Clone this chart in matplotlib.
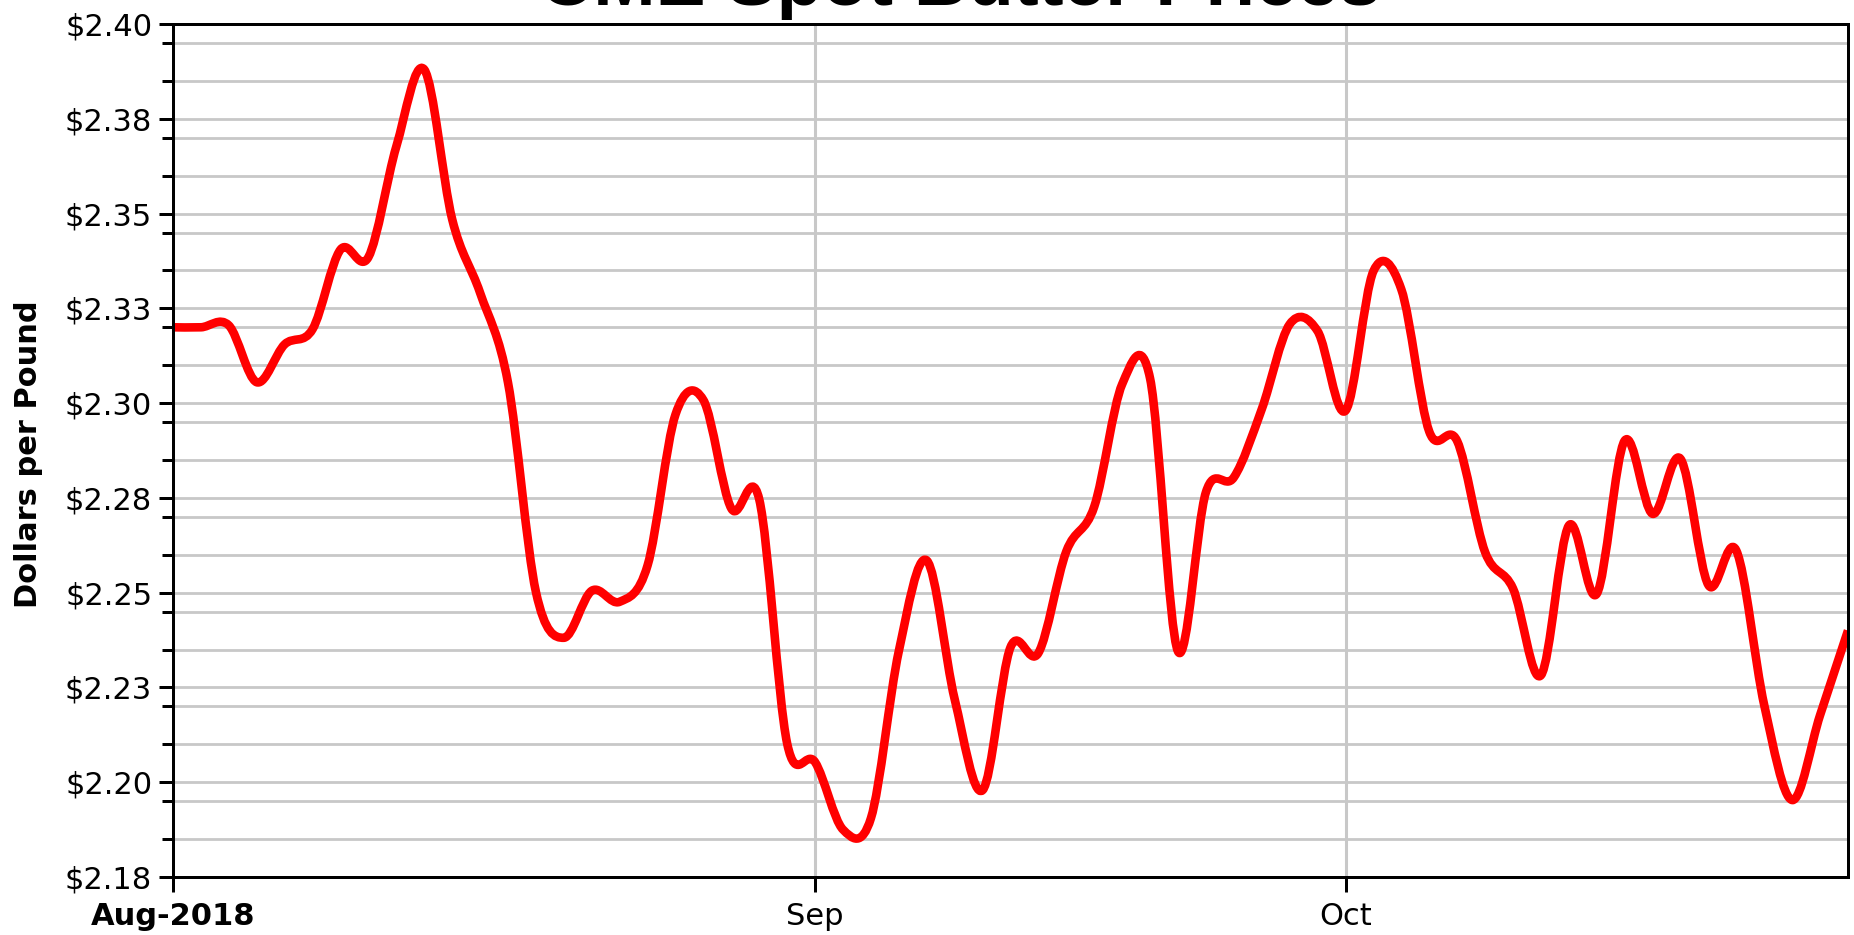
import numpy as np
import pandas as pd
import matplotlib
matplotlib.use('Agg')
import matplotlib.pyplot as plt
from matplotlib.path import Path
from matplotlib.patches import PathPatch

# CME trading days, Aug 1 - Oct 25 2018 (Labor Day closed)
trade_days = pd.bdate_range('2018-08-01', '2018-10-25')
trade_days = trade_days[trade_days != pd.Timestamp('2018-09-03')]

# spot butter, dollars per pound
prices = [2.3200, 2.3200, 2.3205, 2.3055, 2.3155, 2.3195, 2.3405, 2.3385, 2.3677, 2.3880,
          2.3485, 2.3291, 2.3054, 2.2502, 2.2381, 2.2505, 2.2476, 2.2572, 2.2970, 2.3008,
          2.2722, 2.2746, 2.2102, 2.2053, 2.1875, 2.1905, 2.2346, 2.2585, 2.2219, 2.1979,
          2.2356, 2.2341, 2.2609, 2.2727, 2.3050, 2.3065, 2.2345, 2.2765, 2.2804, 2.2984,
          2.3208, 2.3190, 2.2980, 2.3348, 2.3300, 2.2925, 2.2900, 2.2607, 2.2511, 2.2282,
          2.2677, 2.2497, 2.2901, 2.2708, 2.2853, 2.2520, 2.2611, 2.2203, 2.1953, 2.2177,
          2.2400]

y_major = [2.175, 2.200, 2.225, 2.250, 2.275, 2.300, 2.325, 2.350, 2.375, 2.400]
y_major_labels = ['$2.18', '$2.20', '$2.23', '$2.25', '$2.28',
                  '$2.30', '$2.33', '$2.35', '$2.38', '$2.40']
y_minor = [2.185, 2.195, 2.21, 2.22, 2.235, 2.245, 2.26, 2.27, 2.285, 2.295,
           2.31, 2.32, 2.335, 2.345, 2.36, 2.37, 2.385, 2.395]
month_labels = ['Aug-2018', 'Sep', 'Oct']


def smoothPath(x, y):
    # catmull-rom through the points, as cubic bezier pieces
    pts = np.column_stack([x, y])
    padded = np.vstack([pts[0], pts, pts[-1]])
    verts = [pts[0]]
    codes = [Path.MOVETO]
    for i in range(len(pts) - 1):
        p0, p1, p2, p3 = padded[i], padded[i + 1], padded[i + 2], padded[i + 3]
        verts += [p1 + (p2 - p0) / 6, p2 - (p3 - p1) / 6, p2]
        codes += [Path.CURVE4] * 3
    return Path(verts, codes)


fig = plt.figure(figsize=(18.54, 9.35), dpi=100)
ax = fig.add_axes([173 / 1854, 1 - 877 / 935, (1848 - 173) / 1854, (877 - 24) / 935])

x = np.arange(len(trade_days))
ax.add_patch(PathPatch(smoothPath(x, prices), fill=False, edgecolor='#ff0000',
                       lw=6.2, joinstyle='round', zorder=3))
ax.set_xlim(0, len(trade_days) - 1)
ax.set_ylim(2.175, 2.40)

month_start = [int(np.where(trade_days.month == m)[0][0]) for m in (8, 9, 10)]
ax.set_xticks(month_start, month_labels)
ax.get_xticklabels()[0].set_fontweight('bold')
ax.set_yticks(y_major, y_major_labels)
ax.set_yticks(y_minor, minor=True)

ax.set_axisbelow(True)
ax.grid(which='both', axis='y', color='#c8c8c8', lw=2.0)
ax.grid(which='major', axis='x', color='#c8c8c8', lw=2.2)

ax.tick_params(axis='y', which='major', length=10, width=2.16, pad=5, labelsize=22)
ax.tick_params(axis='y', which='minor', length=8, width=2.16)
ax.tick_params(axis='x', which='major', length=10.8, width=2.16, pad=7, labelsize=22)
for s in ax.spines.values():
    s.set_linewidth(2.16)
    s.set_zorder(4)

fig.text(29 / 1854, 1 - 454 / 935, 'Dollars per Pound', rotation=90, ha='center',
         va='center', fontsize=22, fontweight='bold')
# title sits mostly above the canvas, as in the source image
fig.text(960 / 1854, 1 - 5 / 935, 'CME Spot Butter Prices', ha='center', va='baseline',
         fontsize=54, fontweight='bold', family='Liberation Sans')

fig.savefig('out.png', dpi=100)
